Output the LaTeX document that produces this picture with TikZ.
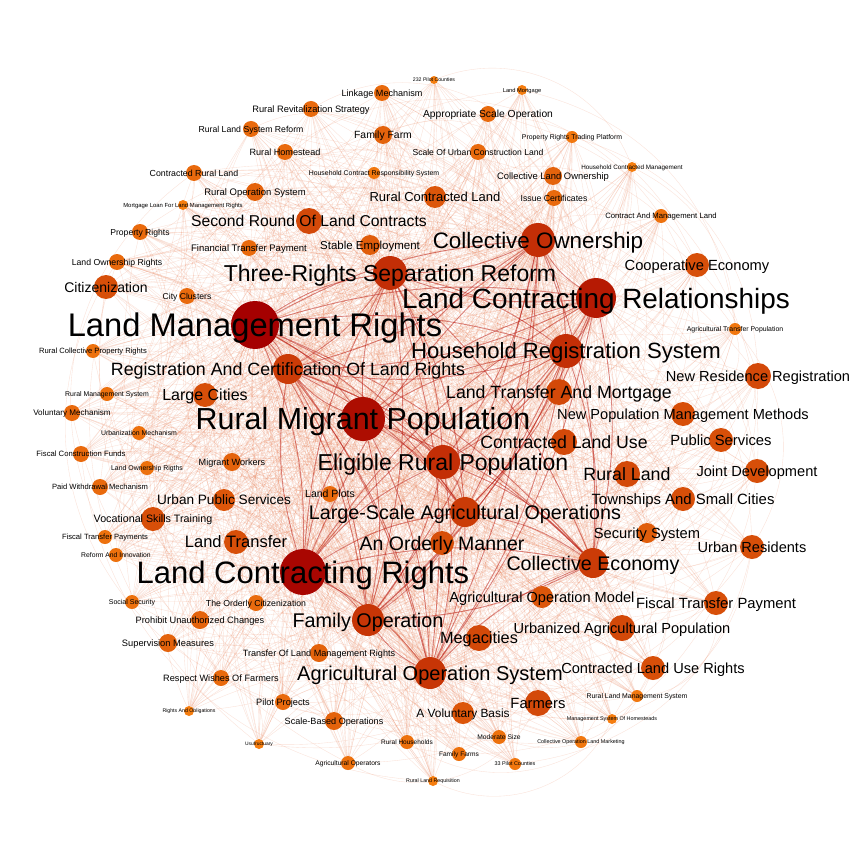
\documentclass[tikz,border=0pt]{standalone}
\usepackage{fontspec}
\setmainfont{Liberation Sans}
\usepackage{tikz}
\usetikzlibrary{backgrounds}
\definecolor{nodehigh}{RGB}{165,0,0}
\definecolor{nodelow}{RGB}{245,125,15}
\definecolor{edgelight}{RGB}{232,105,55}
\definecolor{edgedark}{RGB}{185,20,10}
\tikzstyle{thinedge} = [edgelight, line width=0.35pt, opacity=0.2]
\tikzstyle{hubedge} = [edgedark, line width=0.9pt, opacity=0.5]

% name/x/y/radius/font size/label
\def\nodelist{%
pc/434/80/4/5.2/232 Pilot Counties,
lmo/522/90/5/5.7/Land Mortgage,
lkm/382/93/8/9.1/Linkage Mechanism,
rrs/311/109/8/9.3/Rural Revitalization Strategy,
aso/488/114/8/10.3/Appropriate Scale Operation,
rlsr/251/129/8/8.7/Rural Land System Reform,
ff/383/135/9/10.4/Family Farm,
prtp/572/137/6/6.9/Property Rights Trading Platform,
rh/285/152/8/9.1/Rural Homestead,
sucl/478/152/8/8.6/Scale Of Urban Construction Land,
hcm/632/167/5/6.3/Household Contracted Management,
crl/194/173/8/8.8/Contracted Rural Land,
hcrs/374/173/6/6.9/Household Contract Responsibility System,
clo/553/176/9/9.4/Collective Land Ownership,
ros/255/192/9/9.5/Rural Operation System,
rcl/435/197/11/13/Rural Contracted Land,
ic/554/198/8/8.7/Issue Certificates,
mlf/183/205/5/5.9/Mortgage Loan For Land Management Rights,
caml/661/216/7/7.7/Contract And Management Land,
srlc/309/221/13/15.7/Second Round Of Land Contracts,
co/538/240/17/22.4/Collective Ownership,
pr/140/232/8/8.6/Property Rights,
ftp/249/248/8/9.5/Financial Transfer Payment,
se/370/245/10/11.5/Stable Employment,
lor/117/262/8/8.7/Land Ownership Rights,
cec/697/265/12/14.7/Cooperative Economy,
trsr/390/273/17/23/Three-Rights Separation Reform,
cit/106/287/12/14/Citizenization,
cc/187/296/8/8.6/City Clusters,
lcrel/596/298/20/27.9/Land Contracting Relationships,
lmr/255/325/24/32.7/Land Management Rights,
atp/735/329/6/6.9/Agricultural Transfer Population,
hrs/566/351/17/22.1/Household Registration System,
rcpr/93/351/7/7.6/Rural Collective Property Rights,
racl/288/369/15/17.8/Registration And Certification Of Land Rights,
lci/205/395/12/16/Large Cities,
ltam/559/392/13/17.7/Land Transfer And Mortgage,
nrr/758/376/13/14.6/New Residence Registration,
rms/107/394/7/6.9/Rural Management System,
vm/72/413/8/8.1/Voluntary Mechanism,
rmp/363/419/22/30.4/Rural Migrant Population,
npmm/683/414/12/14.6/New Population Management Methods,
um/139/433/7/6.9/Urbanization Mechanism,
clu/564/442/13/17.7/Contracted Land Use,
ps/721/440/12/14.8/Public Services,
fcf/81/454/8/7.7/Fiscal Construction Funds,
mw/232/462/9/9.1/Migrant Workers,
erp/443/462/17/23/Eligible Rural Population,
lorg/147/468/7/6.9/Land Ownership Rigths,
rl/627/474/13/17.8/Rural Land,
jd/757/471/12/14.6/Joint Development,
pwm/100/487/8/7.6/Paid Withdrawal Mechanism,
lp/330/494/8/10.5/Land Plots,
ups/224/500/11/13.6/Urban Public Services,
tasc/683/499/12/14.9/Townships And Small Cities,
lsao/465/512/15/19.7/Large-Scale Agricultural Operations,
vst/153/519/12/10.7/Vocational Skills Training,
ss/647/533/10/14.7/Security System,
ftps/105/537/7/7.6/Fiscal Transfer Payments,
lt/236/542/12/16.5/Land Transfer,
aom/442/543/12/19.5/An Orderly Manner,
ur/752/547/12/14.6/Urban Residents,
rai/116/555/7/6.8/Reform And Innovation,
lcrt/303/572/23/31/Land Contracting Rights,
ce/593/563/15/19.7/Collective Economy,
sos/132/602/7/7/Social Security,
toc/256/603/8/8.7/The Orderly Citizenization,
aomd/542/597/11/14.6/Agricultural Operation Model,
ftpy/716/603/12/14.8/Fiscal Transfer Payment,
puc/200/620/9/9.25/Prohibit Unauthorized Changes,
fo/368/620/16/19.8/Family Operation,
sm/168/643/9/9.3/Supervision Measures,
mc/479/638/13/16.3/Megacities,
uap/622/628/13/14.6/Urbanized Agricultural Population,
tlmr/319/653/9/9.1/Transfer Of Land Management Rights,
aos/430/673/16/20/Agricultural Operation System,
clur/653/668/12/14.6/Contracted Land Use Rights,
rwf/221/678/8/9.2/Respect Wishes Of Farmers,
rlms/637/696/6/6.9/Rural Land Management System,
pp/283/702/8/9.2/Pilot Projects,
fa/538/703/13/14.8/Farmers,
rao/189/711/5/5.2/Rights And Obligations,
msh/612/719/5/5.4/Management System Of Homesteads,
avb/463/713/11/11.9/A Voluntary Basis,
sbo/334/721/9/9.1/Scale-Based Operations,
colm/581/742/6/5.4/Collective Operation Land Marketing,
ms/499/737/7/6.7/Moderate Size,
usu/259/744/5/4.9/Usufructuary,
rhh/407/742/7/6.5/Rural Households,
ffs/459/754/7/6.6/Family Farms,
ao/348/763/7/6.7/Agricultural Operators,
tpc/515/764/6/5.4/33 Pilot Counties,
rlr/433/781/5/5.3/Rural Land Requisition}
\def\hublist{lmr,lcrt,rmp,lcrel,co,trsr,hrs,racl,erp,lsao,aos,ce,fo}

\begin{document}
\begin{tikzpicture}[x=1pt, y=-1pt,
    term/.style={circle, draw=none, inner sep=0pt, minimum size=#1},
    termlabel/.style={inner sep=0pt, text depth=0pt, text=black}]
\useasboundingbox (0,0) rectangle (850,850);

% TERMS
\foreach \nm/\px/\py/\rad/\fs/\lab [count=\i] in \nodelist {
    \pgfmathtruncatemacro\shade{min(100,max(0,(\rad-5)*5.3))}
    \node[term=2*\rad, fill=nodehigh!\shade!nodelow, alias=v\i] (\nm) at (\px,\py) {};
}

% LABELS
\foreach \nm/\px/\py/\rad/\fs/\lab in \nodelist {
    \node[termlabel, font=\fontsize{\fs}{\fs}\selectfont, text height={0.72*\fs*1pt}] at (\nm) {\lab};
}

% CO-OCCURRENCE LINKS
\begin{scope}[on background layer]
    \fill[white] (0,0) rectangle (850,850);
    \foreach \nm/\px/\py/\rad/\fs/\lab in \nodelist {
        \foreach \h in \hublist {
            \edef\tmpa{\nm}\edef\tmpb{\h}
            \ifx\tmpa\tmpb\else \draw[thinedge] (\nm) to[bend left=15] (\h); \fi
        }
    }
    \foreach \i in {1,...,93} {
        \pgfmathtruncatemacro\j{mod(\i+20,93)+1}
        \pgfmathtruncatemacro\k{mod(\i+45,93)+1}
        \pgfmathtruncatemacro\m{mod(\i+9,93)+1}
        \pgfmathtruncatemacro\n{mod(\i+62,93)+1}
        \draw[thinedge] (v\i) to[bend left=30] (v\j);
        \draw[thinedge] (v\i) to[bend left=40] (v\k);
        \draw[thinedge] (v\i) to[bend left=45] (v\m);
        \draw[thinedge] (v\i) to[bend right=35] (v\n);
    }
    \foreach \a [count=\i] in \hublist {
        \foreach \b [count=\j] in \hublist {
            \ifnum\i<\j \draw[hubedge] (\a) to[bend left=12] (\b); \fi
        }
    }
\end{scope}

\end{tikzpicture}
\end{document}
